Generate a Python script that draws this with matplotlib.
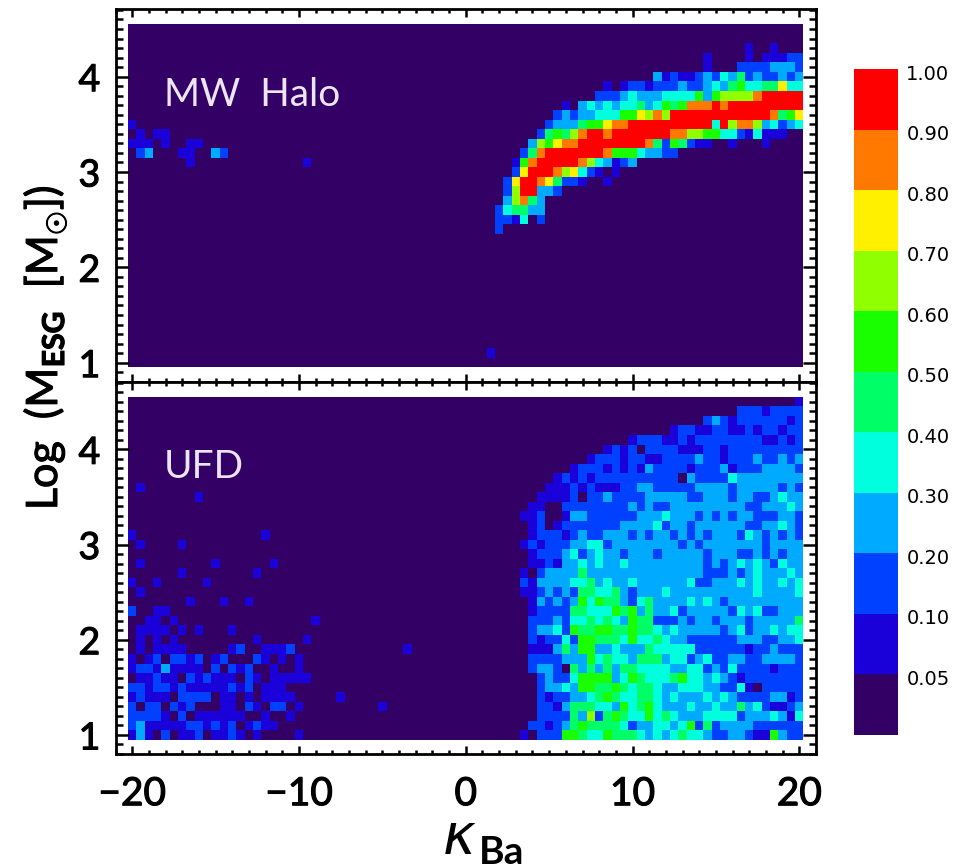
import numpy as np
import matplotlib
matplotlib.use('Agg')
import matplotlib.pyplot as plt
import matplotlib.patheffects as pe
from matplotlib.colors import ListedColormap, BoundaryNorm
from matplotlib.ticker import MultipleLocator

plt.rcParams['font.family'] = ['Lato', 'DejaVu Sans']
plt.rcParams['mathtext.fontset'] = 'custom'
plt.rcParams['mathtext.rm'] = 'Lato'
plt.rcParams['mathtext.bf'] = 'Lato:bold'

W, H = 955, 865

level_edges = [0.0, 0.05, 0.10, 0.20, 0.30, 0.40, 0.50, 0.60, 0.70, 0.80, 0.90, 1.00]
level_colors = ['#330066', '#1a00d9', '#0040ff', '#00aaff', '#00ffdd', '#00ff66',
                '#1aff00', '#90ff00', '#fff000', '#ff7800', '#ff0000']
level_mids = [0.02, 0.07, 0.15, 0.25, 0.35, 0.45, 0.55, 0.65, 0.75, 0.85, 0.95]
bar_labels = ['0.05', '0.10', '0.20', '0.30', '0.40', '0.50', '0.60', '0.70', '0.80', '0.90', '1.00']

kappa_bins = np.arange(-20, 20.5, 0.5)
logm_bins = np.arange(1, 4.55, 0.1)

# row number (0 = log M 1.0): "first column:colour level" runs, a = top level
halo_runs = {
    1: "43:1 44:0",
    14: "44:2 45:0",
    15: "44:2 46:1 47:4 48:0 49:2 50:0",
    16: "44:2 45:4 46:5 48:3 50:0",
    17: "45:3 46:7 47:9 48:5 49:3 50:0",
    18: "45:2 46:7 47:a 49:3 51:2 52:0",
    19: "45:2 46:8 47:a 49:9 50:8 51:5 52:2 54:1 55:0 57:1 58:0",
    20: "46:2 47:8 48:a 51:9 52:7 53:8 54:4 55:2 56:1 57:0 58:1 59:0",
    21: "7:1 8:0 21:1 22:0 46:1 47:6 48:9 49:a 54:9 55:7 56:4 57:3 58:1 59:2 60:3 61:0",
    22: "1:2 2:3 3:0 6:1 8:0 10:3 11:2 12:0 47:2 48:5 49:9 50:a 57:9 58:6 61:4 62:3 64:2 66:0",
    23: "0:1 3:0 4:1 5:0 7:1 9:0 48:3 49:7 50:6 51:8 52:9 54:a 62:9 63:5 64:2 65:6 66:5 67:2 68:1 70:0 72:1 73:0 76:1 77:0",
    24: "1:1 2:0 3:1 5:0 49:2 50:5 51:6 52:5 53:7 54:9 55:a 57:9 58:a 65:9 67:7 69:6 71:4 73:2 74:1 75:4 76:1 79:0",
    25: "0:1 1:0 50:2 51:3 54:5 55:6 57:8 58:9 60:a 70:4 71:a 72:7 73:9 75:7 76:3 77:4 78:2 79:3 80:4",
    26: "51:2 52:3 53:2 54:3 56:4 59:6 61:8 62:7 63:9 64:7 65:a 77:9 78:5 79:6 80:8",
    27: "52:1 53:0 54:3 55:4 56:3 57:4 58:3 59:4 61:5 62:3 63:4 64:6 65:5 66:6 67:9 70:a 71:9 72:a",
    28: "56:2 59:3 60:4 61:3 64:4 68:6 69:3 70:6 71:7 75:9 76:a",
    29: "57:1 58:0 59:1 60:2 62:1 63:2 66:3 67:2 69:3 70:4 71:3 72:5 73:6 74:4 76:5 78:8 79:4",
    30: "63:3 64:1 65:2 66:1 68:2 69:3 70:2 71:4 72:3 73:5 74:2 75:3 76:2 78:3 79:2 80:3",
    31: "69:1 70:0 73:2 77:3 80:2",
    32: "69:1 70:0 74:1 75:0 76:1 79:2",
    33: "74:1 75:0 77:1 78:0",
}

ufd_left_runs = {
    0: "0:1 1:3 2:1 3:0 4:2 5:0 6:1 8:2 9:0 10:1 12:2 13:1 14:0 15:1 16:0 20:1 21:0",
    1: "0:2 1:3 2:1 7:2 9:1 10:2 11:1 12:2 13:0 14:1 15:2 16:1 18:0",
    2: "0:2 4:1 5:0 6:2 7:0 8:1 14:0 16:1 17:0 19:1 20:0",
    3: "0:2 1:0 2:2 4:0 5:2 6:1 7:2 8:0 11:1 13:0 14:2 15:1 16:0 17:2 19:0 20:1 21:0 30:1 31:0",
    4: "0:1 1:2 2:1 5:0 6:2 10:0 11:1 13:0 14:1 15:0 16:1 20:0 25:1 26:0",
    5: "0:2 2:1 3:2 5:1 6:2 7:1 12:2 13:1 14:2 15:0 16:1 19:0",
    6: "1:1 3:2 4:1 6:0 7:2 8:1 9:2 10:1 13:0 14:2 15:1 16:0 17:1 22:0",
    7: "0:1 1:2 3:1 4:3 5:1 9:0 10:2 11:0 12:2 13:1 14:2 15:0 17:1 18:0 20:1 21:0",
    8: "0:1 1:0 2:1 3:2 4:0 5:2 7:1 8:2 9:0 10:1 11:2 12:0 15:2 16:1 17:0 18:1 19:0 20:1 21:0",
    9: "1:1 2:0 3:1 7:0 12:1 13:2 14:0 16:1 19:2 20:0 33:1 34:0",
    10: "1:1 2:0 3:1 4:0 5:1 6:0 15:1 16:0 21:1 22:0",
    11: "1:1 5:0 6:1 7:0 8:1 9:0 12:1 13:0",
    12: "2:1 4:0 5:1 6:0 22:1 23:0",
    13: "0:2 1:0 3:1 5:0",
    14: "7:1 8:0 11:1 12:0 14:1 15:0",
    15: "1:1 2:0",
    16: "0:1 1:0 3:1 4:0 9:1 10:0",
    17: "6:1 7:0 15:1 16:0",
    18: "1:1 2:0 10:1 11:0 17:1 18:0",
    20: "1:1 2:0 6:1 7:0",
    21: "0:1 1:0 16:1 17:0",
    25: "8:1 9:0",
    26: "1:1 2:0",
}

ufd_right_runs = {
    0: "47:1 48:0 49:2 52:6 54:5 55:4 57:6 58:5 61:4 62:3 63:4 64:3 65:4 66:5 67:4 69:3 70:2 72:3 74:2 75:1 77:6 78:3 79:2",
    1: "48:2 50:1 51:2 52:3 53:5 54:6 55:5 59:4 60:2 61:3 63:4 65:3 66:4 67:6 68:2 69:5 70:2 71:3 75:2",
    2: "49:2 53:5 54:3 55:7 56:2 57:5 58:6 59:5 60:4 62:6 63:4 64:5 65:4 66:3 69:4 73:2 74:3 77:4 78:3 79:1 80:4",
    3: "49:2 51:1 52:3 53:5 56:4 58:3 59:6 60:4 61:5 62:6 63:4 64:3 67:4 68:3 70:4 71:3 73:5 74:3 75:4 76:2 77:1 79:2 80:3",
    4: "49:2 50:1 51:2 53:3 55:4 56:5 57:6 58:5 59:4 61:5 63:4 64:3 65:4 66:3 69:4 70:3 71:4 72:3 73:2 77:3 79:1 80:2",
    5: "49:2 50:3 52:4 53:3 54:6 56:5 58:6 59:5 60:4 61:5 63:4 64:3 66:4 69:3 71:2 73:4 74:1 75:0 76:2",
    6: "49:2 50:3 51:2 53:4 54:6 58:3 59:4 60:6 61:5 62:4 65:5 66:6 67:4 69:3 70:4 71:3 72:2 73:1 74:2",
    7: "48:2 49:3 51:2 52:0 53:5 54:3 55:5 56:3 57:5 58:3 59:5 61:4 65:3 67:4 69:2 70:3 71:2 72:4 73:2 77:1 78:2",
    8: "48:2 52:3 55:6 56:4 57:5 58:4 60:3 61:5 64:3 65:4 67:2 68:3 69:4 70:2 72:3 74:2 76:3 80:2",
    9: "48:1 51:3 52:5 53:3 54:6 56:3 58:4 59:3 62:5 63:4 68:2 74:1 75:2 77:3 78:2",
    10: "48:2 49:1 50:2 52:4 53:2 54:6 56:5 59:4 60:6 61:4 63:5 64:4 65:3 67:2 73:3 76:2 78:3 80:4",
    11: "48:2 49:3 51:4 52:2 53:6 54:5 56:6 58:5 60:6 61:5 63:4 64:3 65:4 66:3 71:2 72:3 73:4 74:2 75:3 77:4 78:3 79:4",
    12: "48:2 51:3 52:2 53:4 55:5 56:4 57:5 58:4 59:3 60:6 61:5 63:2 66:3 67:2 68:3 70:2 71:3 74:2 75:3 80:5",
    13: "48:1 49:2 53:5 55:4 58:6 59:5 60:6 61:3 62:5 63:3 65:4 66:2 67:3 72:2 73:4 74:3 75:4 76:2 78:3",
    14: "48:1 49:3 50:2 51:3 52:2 53:3 54:6 55:4 56:6 57:5 59:3 60:2 61:4 62:5 63:3 67:4 68:3 69:4 70:3 71:2 72:3",
    15: "47:1 49:2 50:3 51:2 52:3 53:2 54:5 56:4 58:5 59:3 60:2 61:3 64:4 65:3 75:4 76:3 80:4",
    16: "47:2 48:1 49:3 53:4 55:5 56:3 57:4 58:3 60:4 61:3 67:4 68:2 70:3 73:4 74:3 75:4 76:3 78:4 79:3 80:4",
    17: "47:1 48:0 49:2 50:3 54:5 55:3 69:2 72:3 73:2 74:3 75:4 76:3 79:4 80:3",
    18: "48:1 50:2 51:1 52:3 54:4 55:3 56:4 57:3 59:4 60:3 69:2 70:3 71:2 72:3 73:4 74:3 75:4 76:3 77:2 78:4 79:3",
    19: "48:1 49:2 52:3 53:4 54:2 55:3 56:4 57:3 59:2 60:3 63:2 64:3 69:2 70:3 73:2 75:3 76:2 77:3 78:2 79:3",
    20: "47:1 48:2 49:1 50:2 53:3 55:4 57:2 58:3 66:2 67:3 68:2 69:3 76:2 77:3",
    21: "48:1 49:2 52:1 53:2 54:3 55:2 57:3 60:2 61:3 62:2 63:3 65:2 66:3 67:2 68:3 69:2 70:3 73:2 74:4 75:3 76:2 77:3 78:2 79:3 80:2",
    22: "48:1 49:2 50:0 51:1 52:2 59:3 63:4 64:2 65:3 67:2 68:3 74:2 76:3 78:4 79:3 80:2",
    23: "47:1 49:2 50:0 52:1 53:3 55:2 61:3 64:4 65:3 68:2 69:3 70:2 71:3 72:2 73:3 75:2 78:3 80:2",
    24: "48:1 50:0 52:2 60:3 61:2 62:3 63:2 65:3 74:2 76:3 79:4 80:3",
    25: "49:1 53:2 54:0 55:2 57:3 58:2 62:3 67:2 69:3 72:2 73:3 75:2 77:3 78:4 79:3",
    26: "50:1 53:2 54:1 55:2 56:1 59:2 61:3 63:2 68:3 72:2 73:3 78:2 79:3 80:2",
    27: "51:1 52:2 53:1 54:2 55:1 56:2 66:0 67:3 68:2 72:4 73:3",
    28: "53:1 54:2 57:1 58:2 59:1 60:2 61:1 62:3 63:2 67:1 68:2 71:3 72:1 73:2 76:3 80:2",
    29: "55:1 56:2 59:1 60:2 62:1 64:2 68:3 69:2 71:1 72:2 75:3 76:2 78:3 79:2 80:3",
    30: "57:1 58:2 59:1 60:2 61:0 62:2 66:1 69:2 71:1 72:2",
    31: "60:1 61:2 64:1 66:2 67:1 68:2 76:1 78:2 79:1 80:2",
    32: "65:1 66:2 68:1 70:2 72:1 74:2 75:1 76:2 78:1 79:2",
    33: "69:2 70:3 71:2 72:1 73:2 79:1 80:2",
    34: "73:2 76:1 77:2",
    35: "80:1",
}


def make_grid(*run_sets):
    grid = np.zeros((len(logm_bins), len(kappa_bins)), dtype=int)
    for runs in run_sets:
        for row, text in runs.items():
            parts = [p.split(':') for p in text.split()]
            for i, (col, lev) in enumerate(parts):
                end = int(parts[i + 1][0]) if i + 1 < len(parts) else len(kappa_bins)
                grid[row, int(col):end] = int(lev, 16)
    return np.array(level_mids)[grid]


def px_axes(left, top, right, bottom):
    return fig.add_axes([left / W, 1 - bottom / H, (right - left) / W, (bottom - top) / H])


cmap = ListedColormap(level_colors)
norm = BoundaryNorm(level_edges, cmap.N)
heavier = [pe.withStroke(linewidth=0.8, foreground='black')]

fig = plt.figure(figsize=(W / 100, H / 100), dpi=100)
ax1 = px_axes(115.5, 9, 816, 381.7)
ax2 = px_axes(115.5, 381.7, 816, 754)

for ax, z, name in [(ax1, make_grid(halo_runs), 'MW  Halo'),
                    (ax2, make_grid(ufd_left_runs, ufd_right_runs), 'UFD')]:
    ax.pcolormesh(kappa_bins, logm_bins, z, cmap=cmap, norm=norm, shading='nearest', zorder=1)
    ax.set_xlim(-21, 21)
    ax.set_ylim(0.8, 4.71)
    ax.xaxis.set_major_locator(MultipleLocator(10))
    ax.xaxis.set_minor_locator(MultipleLocator(1))
    ax.yaxis.set_major_locator(MultipleLocator(1))
    ax.yaxis.set_minor_locator(MultipleLocator(0.1))
    ax.tick_params(which='major', direction='in', top=True, right=True, length=9.5, width=1.8,
                   labelsize=27, zorder=3)
    ax.tick_params(which='minor', direction='in', top=True, right=True, length=5, width=1.8, zorder=3)
    ax.tick_params(axis='x', which='major', length=6, labelsize=28)
    ax.tick_params(axis='x', which='minor', length=3)
    ax.tick_params(axis='y', pad=11)
    ax.tick_params(axis='x', pad=16)
    for label in ax.get_xticklabels() + ax.get_yticklabels():
        label.set_path_effects(heavier)
    for s in ax.spines.values():
        s.set_linewidth(2.0)
    ax.text(-18.1, 3.81, name, color='#ece6f4', fontsize=28, va='center', ha='left')
ax1.tick_params(labelbottom=False)

fig.text(45 / W, 1 - 348 / H, r'Log  (M$_{\mathbf{ESG}}$  [M$_{\odot}$])', rotation=90,
         fontsize=31, ha='center', va='center', path_effects=heavier)
fig.text(459 / W, 1 - 838 / H, '\u03ba', family='DejaVu Sans', style='italic', fontsize=40,
         ha='center', va='center')
fig.text(479 / W, 1 - 863.5 / H, 'Ba', fontsize=28, fontweight='bold', ha='left', va='baseline')

cax = px_axes(854, 69, 898, 735)
bar_pos = np.arange(len(level_colors) + 1)
cax.pcolormesh([0, 1], bar_pos, np.array(level_mids).reshape(-1, 1), cmap=cmap, norm=norm)
cax.set_xticks([])
cax.yaxis.tick_right()
cax.set_yticks(bar_pos[1:] - 0.05)
cax.set_yticklabels(bar_labels, fontsize=14, family='DejaVu Sans')
cax.tick_params(axis='y', length=0, pad=6)
for s in cax.spines.values():
    s.set_visible(False)

fig.savefig('out.png', dpi=100)
